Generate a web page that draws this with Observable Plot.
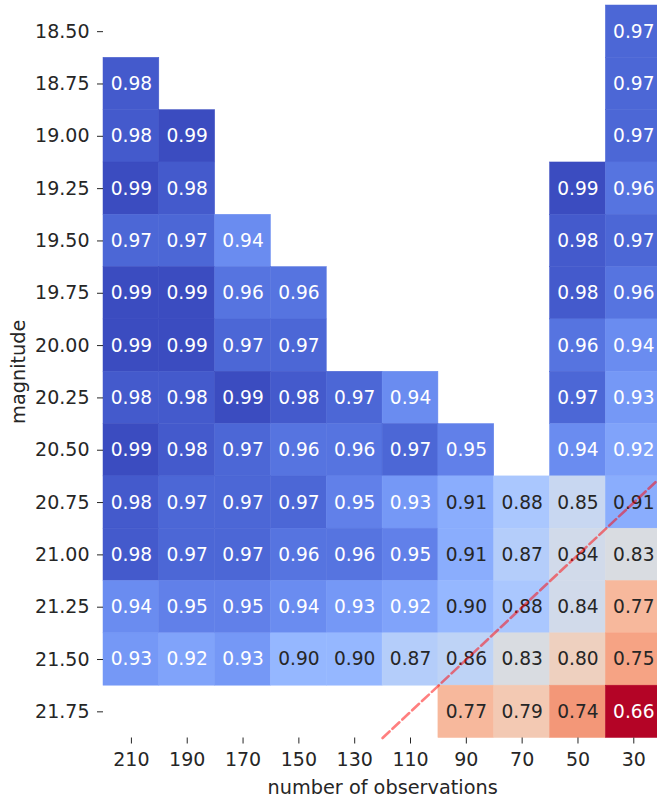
<!DOCTYPE html>
<html>
<head>
<meta charset="utf-8">
<script src="https://cdn.jsdelivr.net/npm/d3@7"></script>
<script src="https://cdn.jsdelivr.net/npm/@observablehq/plot@0.6"></script>
<style>
  html, body { margin: 0; padding: 0; background: #ffffff; overflow: hidden; }
  #chart svg { display: block; }
</style>
</head>
<body>
<div id="chart"></div>
<script>
// Columns: number of observations (left to right)
const observations = [210, 190, 170, 150, 130, 110, 90, 70, 50, 30];
// Rows: magnitude (top to bottom)
const magnitudes = [18.50, 18.75, 19.00, 19.25, 19.50, 19.75, 20.00, 20.25, 20.50, 20.75, 21.00, 21.25, 21.50, 21.75];

// One list of scores per magnitude row; null where there is no cell
const scores = [
  [null, null, null, null, null, null, null, null, null, 0.97],
  [0.98, null, null, null, null, null, null, null, null, 0.97],
  [0.98, 0.99, null, null, null, null, null, null, null, 0.97],
  [0.99, 0.98, null, null, null, null, null, null, 0.99, 0.96],
  [0.97, 0.97, 0.94, null, null, null, null, null, 0.98, 0.97],
  [0.99, 0.99, 0.96, 0.96, null, null, null, null, 0.98, 0.96],
  [0.99, 0.99, 0.97, 0.97, null, null, null, null, 0.96, 0.94],
  [0.98, 0.98, 0.99, 0.98, 0.97, 0.94, null, null, 0.97, 0.93],
  [0.99, 0.98, 0.97, 0.96, 0.96, 0.97, 0.95, null, 0.94, 0.92],
  [0.98, 0.97, 0.97, 0.97, 0.95, 0.93, 0.91, 0.88, 0.85, 0.91],
  [0.98, 0.97, 0.97, 0.96, 0.96, 0.95, 0.91, 0.87, 0.84, 0.83],
  [0.94, 0.95, 0.95, 0.94, 0.93, 0.92, 0.90, 0.88, 0.84, 0.77],
  [0.93, 0.92, 0.93, 0.90, 0.90, 0.87, 0.86, 0.83, 0.80, 0.75],
  [null, null, null, null, null, null, 0.77, 0.79, 0.74, 0.66]
];

// Dashed guide running through the cell corners (observations, magnitude)
const guideObservations = [120, 20];
const guideMagnitudes = [21.875, 20.625];

// Colour limits: lowest score is red, highest is blue
const colorLimits = [0.66, 0.99];

// Moreland's diverging "coolwarm" colour table (blue → grey → red)
const coolwarmStops = [
  [59,76,192],[68,90,204],[77,104,215],[87,117,225],[98,130,234],[108,142,241],
  [119,154,247],[130,165,251],[141,176,254],[152,185,255],[163,194,255],[174,201,253],
  [184,208,249],[194,213,244],[204,217,238],[213,219,230],[221,221,221],[229,216,209],
  [236,211,197],[241,204,184],[245,196,172],[247,187,160],[247,177,148],[247,166,135],
  [244,154,123],[241,141,111],[236,127,99],[229,112,88],[222,96,77],[213,80,66],
  [203,62,56],[192,40,47],[180,4,38]
].map(([r, g, b]) => `rgb(${r},${g},${b})`);
const coolwarm = d3.piecewise(d3.interpolateRgb, coolwarmStops);
// Reversed map: high scores blue, low scores red
const coolwarmReversed = (t) => coolwarm(1 - t);

const obsStep = Math.abs(observations[0] - observations[1]);
const magStep = Math.abs(magnitudes[1] - magnitudes[0]);

const cells = [];
magnitudes.forEach((mag, i) => {
  observations.forEach((obs, j) => {
    const value = scores[i][j];
    if (value != null) cells.push({obs, mag, value});
  });
});

const guide = guideObservations.map((obs, i) => ({obs, mag: guideMagnitudes[i]}));

// Pick dark or white annotation text from the cell colour's luminance
function luminance(c) {
  const {r, g, b} = d3.rgb(c);
  const f = (v) => { v /= 255; return v <= 0.03928 ? v / 12.92 : Math.pow((v + 0.055) / 1.055, 2.4); };
  return 0.2126 * f(r) + 0.7152 * f(g) + 0.0722 * f(b);
}
const cellColor = (v) => coolwarmReversed((v - colorLimits[0]) / (colorLimits[1] - colorLimits[0]));
const textColor = (v) => luminance(cellColor(v)) > 0.408 ? "#262626" : "#ffffff";

const xDomain = [observations[0] + obsStep / 2, observations[observations.length - 1] - obsStep / 2];
const yDomain = [magnitudes[0] - magStep / 2, magnitudes[magnitudes.length - 1] + magStep / 2];
const xMid = (xDomain[0] + xDomain[1]) / 2;
const yMid = (yDomain[0] + yDomain[1]) / 2;

const ink = "#262626";

const chart = Plot.plot({
  width: 657,
  height: 802,
  marginLeft: 103,
  marginRight: 0,
  marginTop: 5,
  marginBottom: 64.5,
  style: {fontFamily: "'DejaVu Sans', sans-serif", fontSize: "18.5px", color: ink, background: "#ffffff", overflow: "visible"},
  x: {type: "linear", domain: xDomain, range: [103, 661.2]},
  y: {type: "linear", domain: yDomain, range: [5, 737.5]},
  color: {type: "linear", domain: colorLimits, interpolate: (t) => coolwarmReversed(t)},
  marks: [
    Plot.rect(cells, {
      x1: (d) => d.obs + obsStep / 2,
      x2: (d) => d.obs - obsStep / 2,
      y1: (d) => d.mag - magStep / 2,
      y2: (d) => d.mag + magStep / 2,
      fill: "value",
      stroke: "value",
      strokeWidth: 0.5
    }),
    Plot.text(cells, {
      x: "obs",
      y: "mag",
      text: (d) => d.value.toFixed(2),
      fill: (d) => textColor(d.value),
      fontSize: 18.6
    }),
    Plot.axisX(observations, {
      tickSize: 6, tickPadding: 8.5, fontSize: 19, stroke: ink, fill: ink,
      tickFormat: (d) => String(d), label: null
    }),
    Plot.axisY(magnitudes, {
      tickSize: 6, tickPadding: 8, fontSize: 19, stroke: ink, fill: ink,
      tickFormat: d3.format(".2f"), label: null
    }),
    Plot.text(["number of observations"], {
      x: () => xMid, frameAnchor: "bottom", lineAnchor: "middle", textAnchor: "middle",
      dy: 50, fontSize: 19.3, fill: ink
    }),
    Plot.text(["magnitude"], {
      y: () => yMid, frameAnchor: "left", lineAnchor: "middle", textAnchor: "middle",
      dx: -85, rotate: -90, fontSize: 19.3, fill: ink
    }),
    Plot.line(guide, {
      x: "obs", y: "mag",
      stroke: "#ff0000", strokeOpacity: 0.5, strokeWidth: 2.6, strokeDasharray: "9.5,4"
    })
  ]
});

document.getElementById("chart").appendChild(chart);
</script>
</body>
</html>
